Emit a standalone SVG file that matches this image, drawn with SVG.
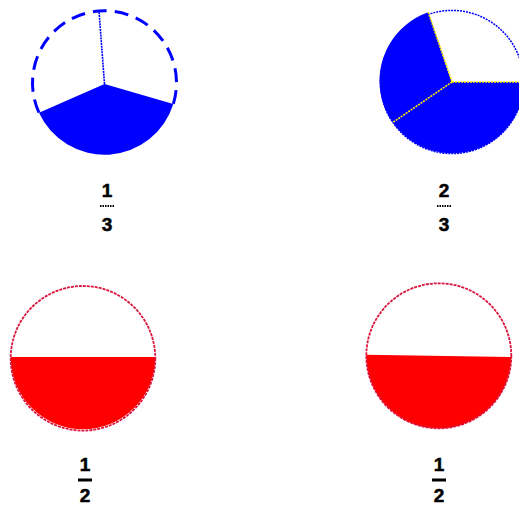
<svg xmlns="http://www.w3.org/2000/svg" width="519" height="505" viewBox="0 0 519 505">
<style>
.num{font-family:"Liberation Sans",Arial,sans-serif;font-weight:bold;font-size:19px;fill:#000;stroke:#000;stroke-width:0.5;text-anchor:middle}
.barD{stroke:#000;stroke-width:2;stroke-dasharray:1.5 1}
.barS{stroke:#000;stroke-width:3}
.blue{fill:#0000ff;stroke:none}
.red{fill:#ff0000;stroke:none}
.rim{fill:none;stroke:#dc143c;stroke-width:1.8;stroke-dasharray:3 1}
.yel{stroke:#ffee00;stroke-width:1.6;stroke-dasharray:2 1}
</style>
<rect width="519" height="505" fill="#fff"/>
<g id="pie-one-third">
  <path class="blue" d="M104.5,84 L39,112.7 A72,72 0 0 0 173.3,104 Z"/>
  <path d="M39,112.7 A72,72 0 0 1 99,11 A72,72 0 0 1 173.3,104" fill="none" stroke="#0000ff" stroke-width="3" stroke-dasharray="14 8"/>
  <line x1="104.5" y1="84" x2="99" y2="11" stroke="#0000ff" stroke-width="1.6" stroke-dasharray="2 0.8"/>
</g>
<g id="pie-two-thirds">
  <circle cx="452" cy="82" r="71.6" fill="none" stroke="#0000ff" stroke-width="1.5" stroke-dasharray="2 1"/>
  <path class="blue" d="M452,82 L524.5,82 A72.5,72.5 0 1 1 428.3,12.3 Z"/>
  <line class="yel" x1="452" y1="82" x2="428.3" y2="12.3"/>
  <line class="yel" x1="452" y1="82" x2="519" y2="82"/>
  <line class="yel" x1="452" y1="82" x2="392.3" y2="122.7"/>
</g>
<g id="pie-half-left">
  <path class="red" d="M10.7,357 L155.3,357 A72.3,72.3 0 0 1 10.7,357 Z"/>
  <circle class="rim" cx="83" cy="358.3" r="72.3"/>
</g>
<g id="pie-half-right">
  <path class="red" d="M366.3,354.7 L511.3,357 A72.5,72.5 0 0 1 366.3,354.7 Z"/>
  <circle class="rim" cx="438.8" cy="355.8" r="72.5"/>
</g>
<g id="label-1-3">
  <text class="num" x="107" y="197">1</text>
  <line class="barD" x1="100" y1="206" x2="114" y2="206"/>
  <text class="num" x="107" y="231">3</text>
</g>
<g id="label-2-3">
  <text class="num" x="444" y="197">2</text>
  <line class="barD" x1="437" y1="206" x2="451" y2="206"/>
  <text class="num" x="444" y="231">3</text>
</g>
<g id="label-1-2-left">
  <text class="num" x="85" y="471">1</text>
  <line class="barS" x1="78" y1="480" x2="92" y2="480"/>
  <text class="num" x="85" y="502">2</text>
</g>
<g id="label-1-2-right">
  <text class="num" x="439" y="471">1</text>
  <line class="barS" x1="432" y1="480" x2="446" y2="480"/>
  <text class="num" x="439" y="502">2</text>
</g>
</svg>
